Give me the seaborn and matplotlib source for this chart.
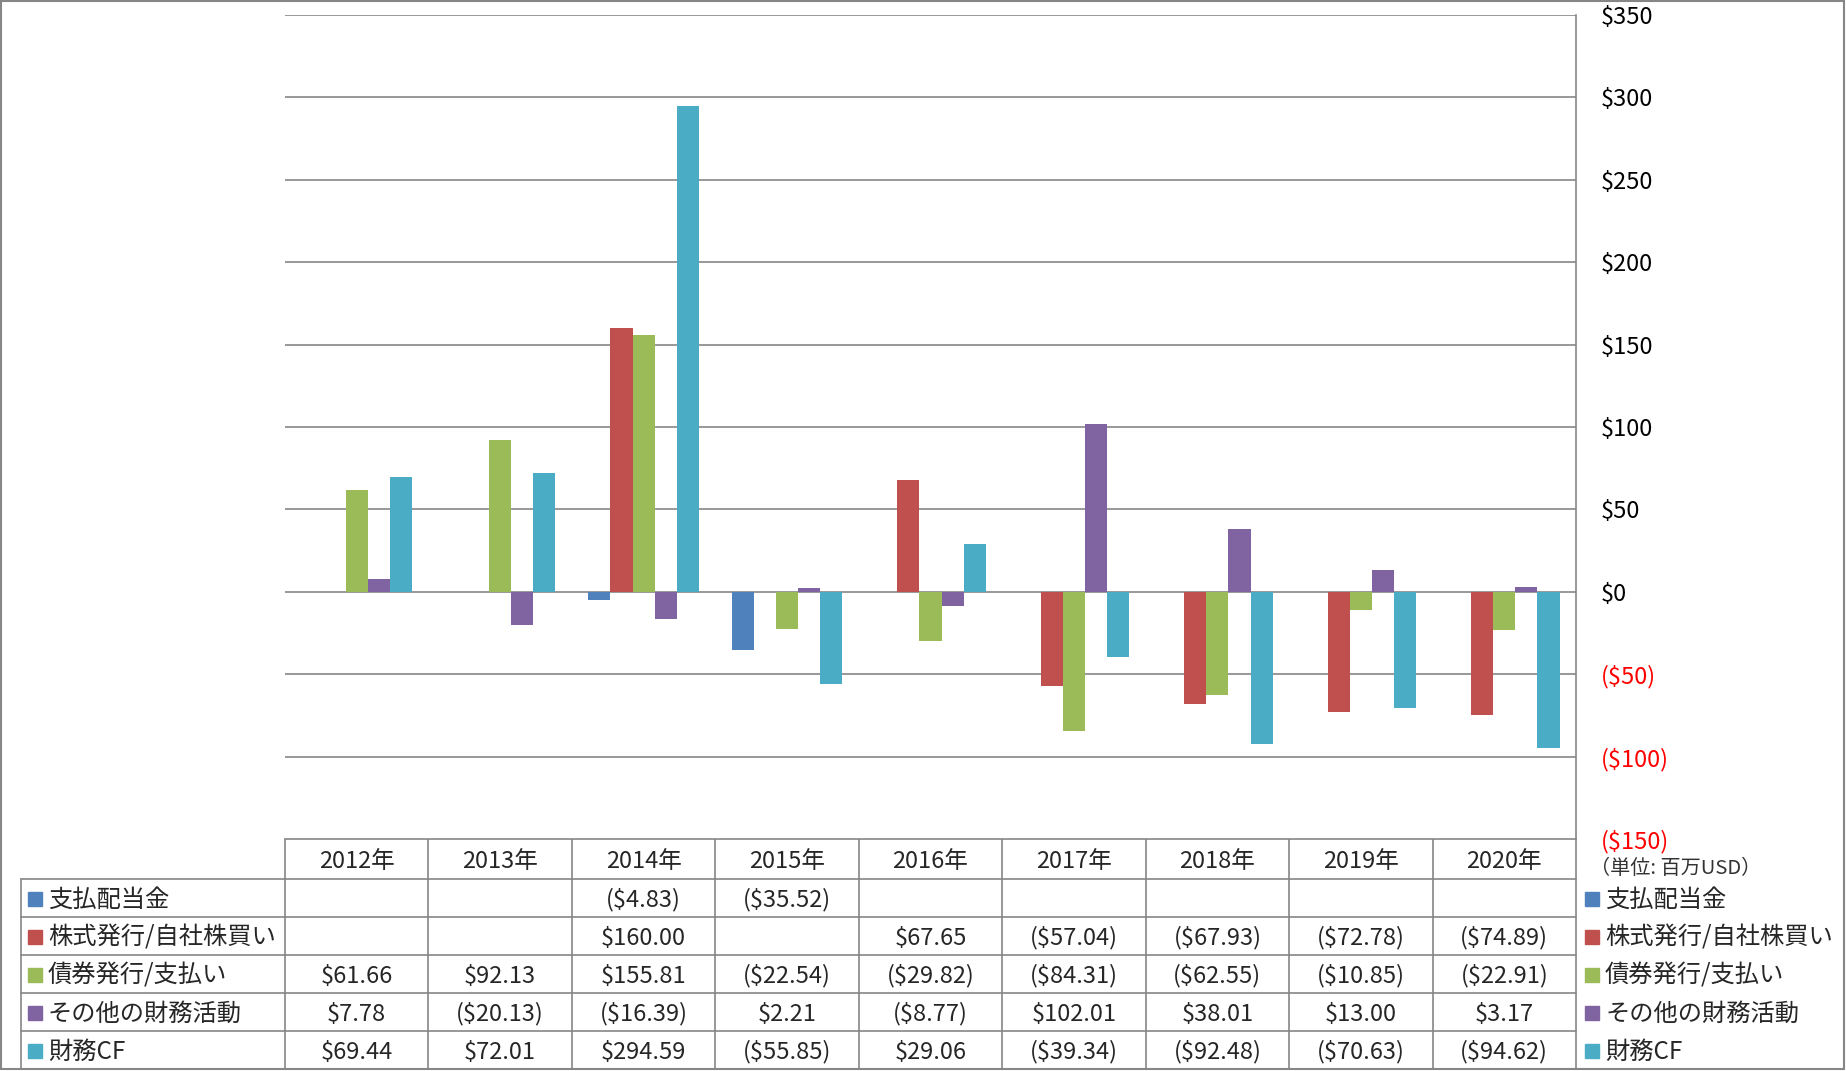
import matplotlib
matplotlib.use('Agg')
import matplotlib.pyplot as plt
from matplotlib.patches import Rectangle
import numpy as np
import pandas as pd
import seaborn as sns

# data (million USD)
years = ['2012年', '2013年', '2014年', '2015年', '2016年', '2017年', '2018年', '2019年', '2020年']
series = ['支払配当金', '株式発行/自社株買い', '債券発行/支払い', 'その他の財務活動', '財務CF']
dividends = [np.nan, np.nan, -4.83, -35.52, np.nan, np.nan, np.nan, np.nan, np.nan]
stock = [np.nan, np.nan, 160.00, np.nan, 67.65, -57.04, -67.93, -72.78, -74.89]
bonds = [61.66, 92.13, 155.81, -22.54, -29.82, -84.31, -62.55, -10.85, -22.91]
other = [7.78, -20.13, -16.39, 2.21, -8.77, 102.01, 38.01, 13.00, 3.17]
fin_cf = [69.44, 72.01, 294.59, -55.85, 29.06, -39.34, -92.48, -70.63, -94.62]
colors = ['#4F81BD', '#C0504D', '#9BBB59', '#8064A2', '#4BACC6']
yticks = [-150, -100, -50, 0, 50, 100, 150, 200, 250, 300, 350]
unit_label = '（単位: 百万USD）'

values = [dividends, stock, bonds, other, fin_cf]
df = pd.DataFrame({
    'year': np.tile(years, len(series)),
    'series': np.repeat(series, len(years)),
    'value': np.concatenate(values),
})

sns.set_style('white')
plt.rcParams['font.family'] = ['Noto Sans CJK JP', 'DejaVu Sans']

W, H = 1846, 1071
fig = plt.figure(figsize=(W / 100, H / 100), dpi=100)

# plot area in pixel terms
left, right, top, bottom = 285, 1576, 15, 839
ax = fig.add_axes([left / W, 1 - bottom / H, (right - left) / W, (bottom - top) / H])
sns.barplot(data=df, x='year', y='value', hue='series', order=years, hue_order=series,
            palette=colors, width=0.77, errorbar=None, legend=False, saturation=1,
            linewidth=0, ax=ax)
ax.set_ylim(-150, 350)
ax.set_xlim(-0.5, len(years) - 0.5)
ax.set_xlabel('')
ax.set_ylabel('')
ax.set_xticks([])
ax.yaxis.tick_right()
ax.set_yticks(yticks)
ax.set_yticklabels([f'${v}' if v >= 0 else f'(${-v})' for v in yticks], fontsize=17)
for lbl, v in zip(ax.get_yticklabels(), yticks):
    lbl.set_color('red' if v < 0 else 'black')
ax.tick_params(axis='y', length=0, pad=18)
ax.grid(axis='y', color='#868686', lw=1.2)
ax.set_axisbelow(True)
for s in ['left', 'top', 'bottom']:
    ax.spines[s].set_visible(False)
ax.spines['right'].set_color('#868686')
ax.spines['right'].set_linewidth(1.2)

# data table drawn on an overlay axes in pixel coordinates
tx = fig.add_axes([0, 0, 1, 1], zorder=-1)
tx.set_xlim(0, W)
tx.set_ylim(H, 0)
tx.axis('off')
line_c = '#868686'
col_w = (right - left) / len(years)
head_top, head_bot = bottom, 879
row_h = 38
label_left = 21
rows_y = [head_bot + i * row_h for i in range(len(series) + 1)]

tx.plot([left, right], [head_top, head_top], color=line_c, lw=1.2)
for y in rows_y:
    tx.plot([label_left, right], [y, y], color=line_c, lw=1.2)
tx.plot([label_left, label_left], [head_bot, rows_y[-1]], color=line_c, lw=1.2)
for i in range(len(years) + 1):
    x = left + i * col_w
    tx.plot([x, x], [head_top, rows_y[-1]], color=line_c, lw=1.2)

for i, yr in enumerate(years):
    tx.text(left + (i + 0.5) * col_w, (head_top + head_bot) / 2 + 3, yr,
            ha='center', va='center', fontsize=17)


def fmt(v):
    if np.isnan(v):
        return ''
    return f'${v:,.2f}' if v >= 0 else f'(${-v:,.2f})'


for r, (name, vals, c) in enumerate(zip(series, values, colors)):
    yc = rows_y[r] + row_h / 2
    tx.add_patch(Rectangle((28, yc - 6), 14, 14, color=c))
    tx.text(48, yc + 1.5, name, ha='left', va='center', fontsize=17.5)
    for i, v in enumerate(vals):
        tx.text(left + (i + 0.5) * col_w, yc + 2, fmt(v), ha='center', va='center', fontsize=17)
    # right-hand legend
    tx.add_patch(Rectangle((1585, yc - 6), 14, 14, color=c))
    tx.text(1605, yc + 1.5, name, ha='left', va='center', fontsize=17.5)

tx.text(1590, 869, unit_label, ha='left', va='center', fontsize=14.5, color='#333333')

# outer frame
tx.add_patch(Rectangle((1, 1), W - 3, H - 3, fill=False, ec=line_c, lw=1.5))

fig.savefig('out.png', dpi=100)
